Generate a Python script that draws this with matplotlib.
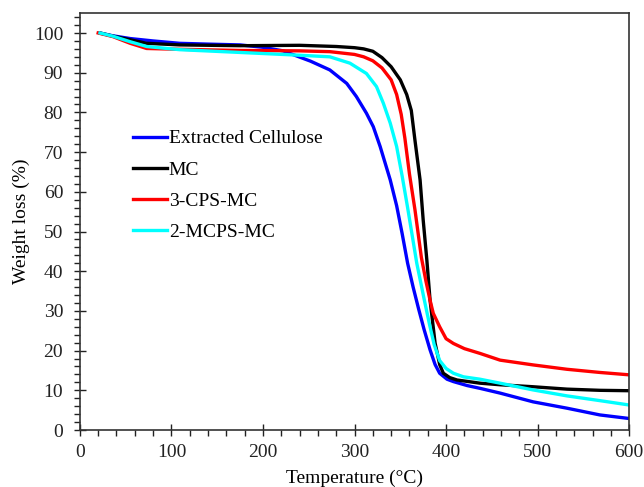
"""
TGA curves of extracted cellulose and modified cellulose samples.
"""
import matplotlib

matplotlib.use("Agg")
import matplotlib.pyplot as plt
from matplotlib.ticker import MultipleLocator

plt.rcParams["font.family"] = ["Liberation Serif", "DejaVu Serif"]

# Temperature (°C) / weight (%)
cellulose_t = [22, 36, 55, 80, 109, 140, 175, 200, 222, 237, 252, 273, 291.5, 302, 313, 320.5,
               328, 339, 346, 352, 358, 364, 370, 376, 382.5, 388, 393, 401, 408, 423, 437,
               459, 495, 532, 568, 600]
cellulose_w = [100, 99.3, 98.6, 98.0, 97.4, 97.2, 97.0, 96.4, 95.5, 94.2, 92.9, 90.7, 87.3,
               84.0, 79.8, 76.4, 71.4, 63.0, 56.5, 49.5, 42.0, 36.0, 30.5, 25.3, 20.2, 16.5,
               14.3, 12.8, 12.2, 11.2, 10.5, 9.3, 7.1, 5.5, 3.8, 2.9]

mc_t = [22, 36, 55, 73, 109, 175, 240, 280, 300, 310, 320, 330, 340, 350, 357, 362, 366,
        371.6, 375, 379, 382.5, 388, 393, 397, 404, 412, 437, 459, 495, 532, 568, 600]
mc_w = [100, 99.2, 98.3, 97.4, 97.0, 96.8, 96.9, 96.6, 96.3, 96.0, 95.4, 93.8, 91.5, 88.2,
        84.5, 80.5, 73.0, 63.0, 52.9, 42.8, 32.7, 21.9, 16.5, 14.3, 13.2, 12.6, 11.8, 11.4,
        10.9, 10.3, 10.0, 9.9]

cps_t = [20, 36, 55, 73, 109, 175, 240, 273, 300, 310, 320, 330, 340, 346, 351, 355, 360,
         366, 373, 378, 382.5, 386, 393, 400, 408, 420, 437, 459, 495, 532, 568, 600]
cps_w = [100, 99.1, 97.4, 96.1, 95.9, 95.6, 95.5, 95.3, 94.6, 94.0, 93.0, 91.2, 88.2, 84.5,
         79.5, 73.5, 64.5, 55.5, 43.5, 37.5, 32.7, 29.4, 26.0, 23.0, 21.8, 20.5, 19.3, 17.6,
         16.4, 15.3, 14.5, 13.9]

mcps_t = [22, 36, 55, 73, 109, 175, 240, 273, 295, 313, 324, 331.5, 339, 346, 352, 358, 363,
          368, 376, 382, 387, 393, 400, 408, 419, 437, 459, 495, 532, 568, 600]
mcps_w = [100, 99.2, 97.8, 96.6, 95.8, 95.1, 94.4, 94.0, 92.4, 89.8, 86.5, 82.3, 77.3, 71.4,
          64.0, 56.0, 49.0, 42.0, 33.0, 26.5, 21.5, 17.5, 15.5, 14.3, 13.4, 12.8, 11.8, 10.1,
          8.6, 7.4, 6.3]

series = [
    ("Extracted Cellulose", cellulose_t, cellulose_w, "#0000ff"),
    ("MC", mc_t, mc_w, "#000000"),
    ("3-CPS-MC", cps_t, cps_w, "#ff0000"),
    ("2-MCPS-MC", mcps_t, mcps_w, "#00ffff"),
]

fig = plt.figure(figsize=(6.44, 4.87), dpi=100)
ax = fig.add_axes([0.124, 0.117, 0.853, 0.856])

for label, t, w, color in series:
    ax.plot(t, w, color=color, linewidth=2.4, label=label, solid_joinstyle="round")

ax.set_xlim(0, 600)
ax.set_ylim(0, 105)
ax.xaxis.set_major_locator(MultipleLocator(100))
ax.xaxis.set_minor_locator(MultipleLocator(20))
ax.yaxis.set_major_locator(MultipleLocator(10))
ax.yaxis.set_minor_locator(MultipleLocator(2))
ax.tick_params(which="major", direction="inout", length=8, width=1, labelsize=14,
               colors="#222222")
ax.tick_params(which="minor", direction="out", length=4, width=1, colors="#222222")
ax.tick_params(axis="x", which="major", pad=6)
ax.tick_params(axis="y", which="major", pad=8)
for spine in ax.spines.values():
    spine.set_color("#333333")
    spine.set_linewidth(1.2)

ax.set_xlabel("Temperature (°C)", fontsize=14, labelpad=6)
ax.set_ylabel("Weight loss (%)", fontsize=14, labelpad=3)

ax.legend(loc="upper left", bbox_to_anchor=(0.0965, 0.72), frameon=False, fontsize=14,
          handlelength=1.75, handletextpad=0.1, labelspacing=0.7, borderaxespad=0,
          borderpad=0)

fig.savefig("out.png", dpi=100)
